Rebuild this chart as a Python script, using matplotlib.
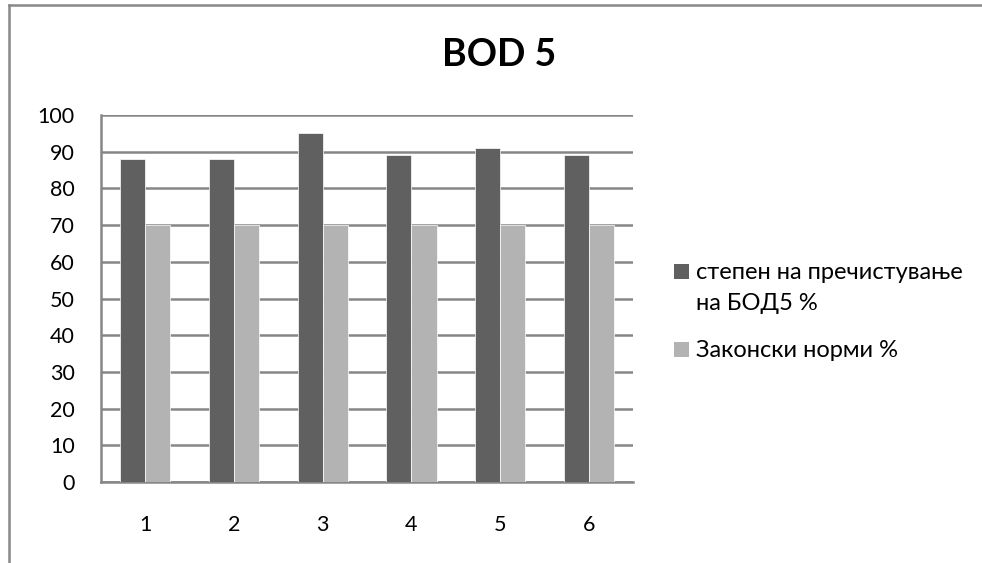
import numpy as np
from matplotlib import pyplot as plt
from matplotlib.lines import Line2D
from matplotlib.patches import Rectangle

plt.rcParams['font.family'] = ['Lato', 'DejaVu Sans']

categories = ['1', '2', '3', '4', '5', '6']
bod5_removal = [88, 88, 95, 89, 91, 89]
legal_norms = [70, 70, 70, 70, 70, 70]
series_labels = [['степен на пречистување', 'на БОД5 %'], ['Законски норми %']]
series_colors = ['#606060', '#b3b3b3']
yticks = list(range(0, 101, 10))

W, H = 982, 563
fig = plt.figure(figsize=(W / 100, H / 100), dpi=100)
ax = fig.add_axes([0.1029, 0.1439, 0.5418, 0.6518])

x = np.arange(len(categories))
w = 0.283
ax.bar(x - w / 2, bod5_removal, w, color=series_colors[0], edgecolor='white',
       linewidth=0.5, zorder=3)
ax.bar(x + w / 2, legal_norms, w, color=series_colors[1], edgecolor='white',
       linewidth=0.5, zorder=3)

ax.set_xlim(-0.5, len(categories) - 0.5)
ax.set_ylim(0, 100)
ax.set_xticks(x)
ax.set_xticklabels(categories)
ax.set_yticks(yticks)
ax.tick_params(axis='both', length=0, labelsize=15.5)
ax.tick_params(axis='x', pad=24)
ax.tick_params(axis='y', pad=19)
ax.yaxis.grid(True, color='#868686', linewidth=1.8, zorder=0)
for side in ['top', 'right']:
    ax.spines[side].set_visible(False)
for side in ['left', 'bottom']:
    ax.spines[side].set_color('#868686')
    ax.spines[side].set_linewidth(1.8)

fig.text(0.508, 0.902, 'BOD 5', ha='center', va='center',
         fontsize=27, fontweight='bold')

# legend drawn by hand so the swatch sits on the first line of a wrapped label
legend_tops = [279, 357]  # baseline of first line of each entry, px from top
line_gap = 31
for lines, color, base in zip(series_labels, series_colors, legend_tops):
    fig.add_artist(Rectangle((674 / W, 1 - base / H), 15 / W, 15 / H,
                             facecolor=color, edgecolor='none',
                             transform=fig.transFigure))
    for i, line in enumerate(lines):
        fig.text(696 / W, 1 - (base + i * line_gap) / H, line,
                 ha='left', va='baseline', fontsize=17)

# outer chart border (left and top only, as in the source image)
fig.add_artist(Line2D([0.0087, 0.0087], [0, 0.992], color='#888888',
                      linewidth=1.8, transform=fig.transFigure))
fig.add_artist(Line2D([0.0087, 1.0], [0.992, 0.992], color='#888888',
                      linewidth=1.8, transform=fig.transFigure))

fig.savefig('out.png', dpi=100)
plt.close(fig)
